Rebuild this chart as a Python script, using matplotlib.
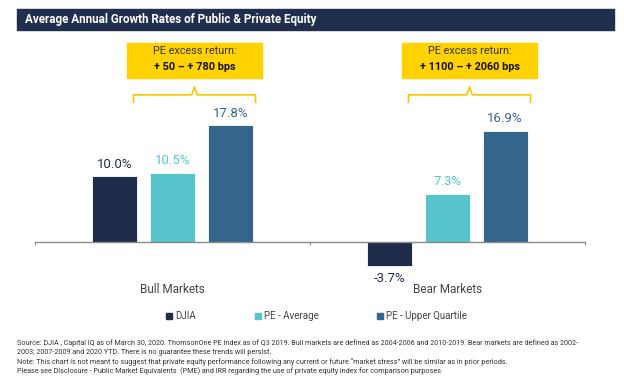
import matplotlib
matplotlib.use("Agg")
import matplotlib.pyplot as plt
from matplotlib.patches import Rectangle
from matplotlib.lines import Line2D
import numpy as np

# data
markets = ["Bull Markets", "Bear Markets"]
series = ["DJIA", "PE - Average", "PE - Upper Quartile"]
djia = [10.0, -3.7]
pe_avg = [10.5, 7.3]
pe_uq = [17.8, 16.9]
excess = ["+ 50 \u2013 + 780 bps", "+ 1100 \u2013 + 2060 bps"]

colors = ["#1f2d4b", "#57c4cb", "#34658d"]
gold = "#ffd200"
bracket_col = "#f3c800"
font = ["Roboto", "DejaVu Sans"]
narrow = ["Liberation Sans Narrow", "Roboto", "DejaVu Sans"]

fig = plt.figure(figsize=(6.24, 3.76), dpi=100)

# title banner
fig.patches.append(Rectangle((17 / 624, 1 - 30 / 376), 597 / 624, 21 / 376,
                             transform=fig.transFigure, color="#1f2f4d", zorder=0))
fig.text(25 / 624, 1 - 19.5 / 376, "Average Annual Growth Rates of Public & Private Equity",
         color="white", fontsize=8.4, fontweight="bold", family=narrow, va="center")

ax = fig.add_axes([35 / 624, 76 / 376, 550 / 624, 260 / 376])
ax.set_xlim(-0.5, 1.5)
ax.set_ylim(-8.83, 30.75)

x = np.arange(len(markets))
w = 0.164
off = 0.21
for i, (vals, c) in enumerate(zip([djia, pe_avg, pe_uq], colors)):
    xs = x + (i - 1) * off
    ax.bar(xs, vals, width=w, color=c, edgecolor="white", linewidth=0.6, zorder=2)
    for xi, v in zip(xs, vals):
        dy = 4 if v >= 0 else -4
        ax.annotate(f"{v:.1f}%", (xi, v), xytext=(0, dy), textcoords="offset points",
                    ha="center", va="bottom" if v >= 0 else "top",
                    color=c, fontsize=9.5, family=font)

# baseline + ticks
for s in ["top", "right", "left"]:
    ax.spines[s].set_visible(False)
ax.spines["bottom"].set_position(("data", 0))
ax.spines["bottom"].set_color("#8a8a8a")
ax.spines["bottom"].set_linewidth(1.0)
ax.set_xticks([-0.5, 0.5, 1.5])
ax.set_xticklabels([])
ax.tick_params(axis="x", length=2.5, color="#8a8a8a", direction="out")
ax.set_yticks([])

for xi, name in zip(x, markets):
    ax.text(xi, -7.2, name, ha="center", va="center", fontsize=8.5,
            color="#444444", family=font)

# excess return boxes and brackets
for xi, txt in zip(x, excess):
    cx = xi + 0.08
    ax.add_patch(Rectangle((cx - 0.247, 25.0), 0.494, 5.3, color=gold, zorder=3))
    ax.text(cx, 29.0, "PE excess return:", ha="center", va="center", fontsize=7.8,
            color="#333333", family=font, zorder=4)
    ax.text(cx, 26.6, txt, ha="center", va="center", fontsize=7.8, fontweight="bold",
            color="#111111", family=font, zorder=4)
    left, right = cx - 0.222, cx + 0.222
    ax.plot([left, left, cx - 0.01, cx, cx + 0.01, right, right],
            [21.3, 22.4, 22.4, 23.6, 22.4, 22.4, 21.3],
            color=bracket_col, lw=1.2, solid_joinstyle="round", zorder=3)

# legend
handles = [Line2D([], [], marker="s", linestyle="none", color=c, markersize=4.5)
           for c in colors]
fig.legend(handles, series, loc="center", bbox_to_anchor=(317 / 624, 1 - 316 / 376),
           ncol=3, frameon=False, handlelength=0.6, handletextpad=0.35,
           columnspacing=6.0, prop={"family": font, "size": 7.0},
           labelcolor="#444444")

notes = [
    "Source: DJIA , Capital IQ as of March 30, 2020. ThomsonOne PE Index as of Q3 2019. Bull markets are defined as 2004-2006 and 2010-2019. Bear markets are defined as 2002-",
    "2003; 2007-2009 and 2020 YTD. There is no guarantee these trends will persist.",
    "Note: This chart is not meant to suggest that private equity performance following any current or future \u201cmarket stress\u201d will be similar as in prior periods.",
    "Please see Disclosure - Public Market Equivalents  (PME) and IRR regarding the use of private equity index for comparison purposes",
]
for k, line in enumerate(notes):
    fig.text(17 / 624, 1 - (343 + 9.5 * k) / 376, line, fontsize=5.2, color="#333333",
             family=narrow, va="center")

fig.savefig("out.png", dpi=100)
